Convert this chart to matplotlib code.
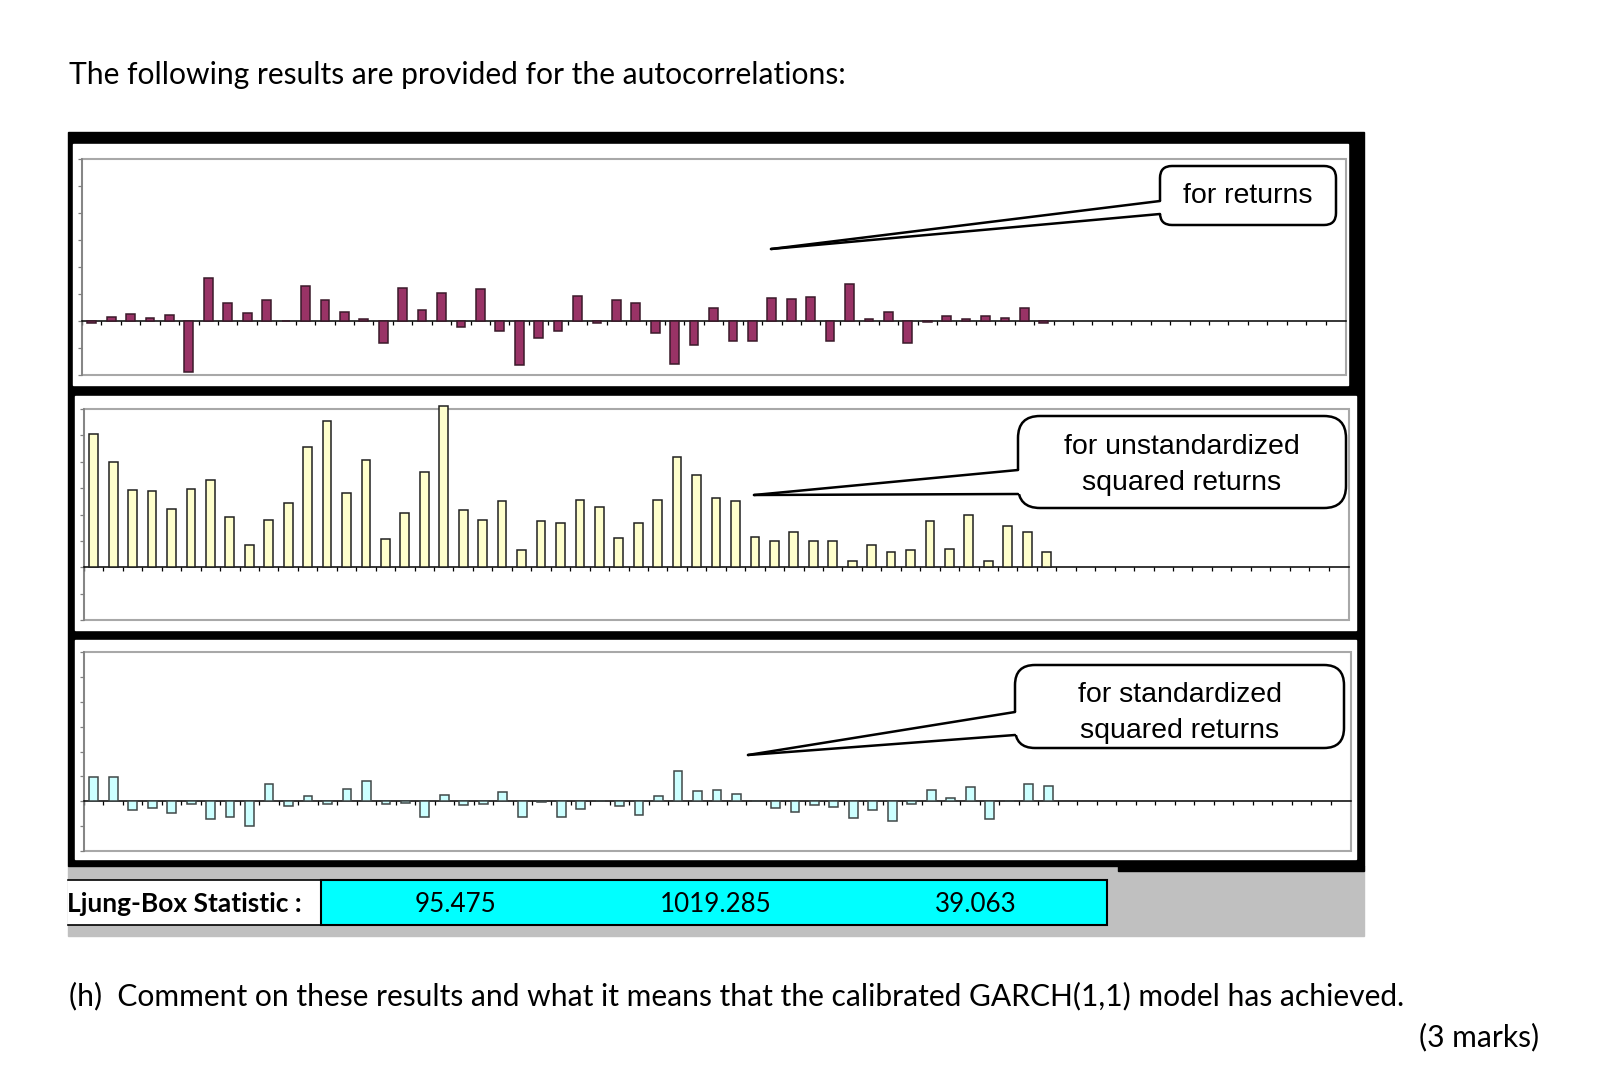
import matplotlib
matplotlib.use("Agg")
import matplotlib.pyplot as plt
from matplotlib.patches import Rectangle, FancyBboxPatch, Polygon
import numpy as np

# autocorrelations (lags 1..50)
lags = np.arange(1, 51)
ret_acf = [-0.008, 0.013, 0.026, 0.011, 0.022, -0.19, 0.159, 0.068, 0.029, 0.076,
           0.0, 0.129, 0.076, 0.035, 0.007, -0.083, 0.122, 0.039, 0.104, -0.022,
           0.117, -0.037, -0.162, -0.062, -0.037, 0.094, -0.008, 0.079, 0.065, -0.044,
           -0.16, -0.088, 0.05, -0.073, -0.073, 0.087, 0.083, 0.09, -0.073, 0.137,
           0.007, 0.035, -0.083, -0.004, 0.018, 0.007, 0.018, 0.011, 0.048, -0.008]
sq_acf = [0.504, 0.398, 0.294, 0.288, 0.221, 0.298, 0.331, 0.189, 0.085, 0.178,
          0.243, 0.455, 0.555, 0.283, 0.408, 0.106, 0.206, 0.36, 0.61, 0.218,
          0.178, 0.25, 0.064, 0.174, 0.166, 0.254, 0.229, 0.111, 0.166, 0.254,
          0.419, 0.35, 0.261, 0.25, 0.114, 0.099, 0.133, 0.099, 0.099, 0.023,
          0.085, 0.056, 0.064, 0.176, 0.07, 0.199, 0.023, 0.155, 0.133, 0.059]
std_acf = [0.099, 0.099, -0.036, -0.028, -0.047, -0.012, -0.071, -0.063, -0.099, 0.068,
           -0.02, 0.02, -0.012, 0.048, 0.08, -0.012, -0.008, -0.063, 0.024, -0.016,
           -0.012, 0.036, -0.063, -0.004, -0.063, -0.03, 0.003, -0.02, -0.056, 0.02,
           0.121, 0.04, 0.044, 0.028, 0.0, -0.028, -0.044, -0.016, -0.024, -0.068,
           -0.036, -0.079, -0.012, 0.044, 0.012, 0.056, -0.072, 0.0, 0.068, 0.06]

panel_labels = ["for returns", "for unstandardized\nsquared returns", "for standardized\nsquared returns"]
lb_label = "Ljung-Box Statistic :"
lb_values = ["95.475", "1019.285", "39.063"]
title = "The following results are provided for the autocorrelations:"
question = "(h)  Comment on these results and what it means that the calibrated GARCH(1,1) model has achieved."
marks = "(3 marks)"

W, H = 1599, 1073
fig = plt.figure(figsize=(W / 100, H / 100), dpi=100)


def rect(x0, y0, x1, y1):
    # pixel box (origin top-left) -> figure fraction
    return [x0 / W, 1 - y1 / H, (x1 - x0) / W, (y1 - y0) / H]


bg = fig.add_axes([0, 0, 1, 1], zorder=0)
bg.set_xlim(0, W)
bg.set_ylim(H, 0)
bg.axis("off")

fg = fig.add_axes([0, 0, 1, 1], zorder=10)
fg.set_xlim(0, W)
fg.set_ylim(H, 0)
fg.axis("off")
fg.patch.set_alpha(0)

# frame, panels and the statistic row
bg.add_patch(Rectangle((68, 866), 1296, 70, color="#C0C0C0"))
bg.add_patch(Rectangle((68, 132), 1296, 734, color="black"))
bg.add_patch(Rectangle((1118, 866), 246, 5, color="black"))
bg.add_patch(Rectangle((73, 144), 1275, 241, color="white"))
bg.add_patch(Rectangle((75, 396), 1281, 234, color="white"))
bg.add_patch(Rectangle((75, 640), 1281, 219, color="white"))
bg.add_patch(Rectangle((68, 880), 253, 45, facecolor="white", edgecolor="none"))
bg.plot([68, 321], [880, 880], color="black", lw=1.2)
bg.plot([68, 321], [925, 925], color="black", lw=1.2)
bg.add_patch(Rectangle((321, 880), 786, 45, facecolor="#00FFFF", edgecolor="black", lw=1.5))

doc_font = "Lato"
fg.text(69, 75, title, fontsize=21.6, family=doc_font, va="center", ha="left")
fg.text(67, 904, lb_label, fontsize=19, family=doc_font, weight="bold", va="center", ha="left")
for xc, v in zip([456, 716, 976], lb_values):
    fg.text(xc, 904, v, fontsize=18.7, family=doc_font, va="center", ha="center")
fg.text(69, 996, question, fontsize=21.6, family=doc_font, va="center", ha="left")
fg.text(1539, 1037, marks, fontsize=21.6, family=doc_font, va="center", ha="right")

panels = [
    (ret_acf, "#993366", "#3a1a2a", (82, 159, 1346, 375)),
    (sq_acf, "#FFFFCC", "#202020", (84, 409, 1349, 620)),
    (std_acf, "#CCFFFF", "#404848", (84, 652, 1351, 851)),
]

for vals, fc, ec, box in panels:
    ax = fig.add_axes(rect(*box), zorder=5)
    ax.set_facecolor("none")
    ax.bar(lags, vals, width=0.45, color=fc, edgecolor=ec, linewidth=1.1, clip_on=False, zorder=3)
    ax.set_xlim(0.5, 65.55)
    ax.set_ylim(-0.195, 0.6)
    for s in ["top", "right"]:
        ax.spines[s].set_visible(False)
    ax.spines["bottom"].set_position(("data", 0))
    ax.spines["bottom"].set_color("black")
    ax.spines["bottom"].set_linewidth(1.1)
    ax.spines["left"].set_color("#808080")
    ax.spines["left"].set_linewidth(1.2)
    ax.add_patch(Rectangle((0, 0), 1, 1, transform=ax.transAxes, fill=False,
                           edgecolor="#A8A8A8", lw=1.5, clip_on=False, zorder=1))
    ax.set_xticks(np.arange(0.5, 65.5, 1))
    ax.set_yticks(np.arange(-0.2, 0.61, 0.1))
    ax.tick_params(axis="x", direction="out", length=3, width=0.9, color="black", labelbottom=False)
    ax.tick_params(axis="y", direction="out", length=3, width=0.9, color="#808080", labelleft=False)


def callout(x0, y0, x1, y1, r, a_top, a_bot, tip, text, cy):
    fg.add_patch(FancyBboxPatch((x0 + r, y0 + r), x1 - x0 - 2 * r, y1 - y0 - 2 * r,
                                boxstyle=f"round,pad={r}", fc="white", ec="black", lw=1.8, zorder=2))
    fg.add_patch(Polygon([(x0 + 6, a_top), (x0 - 1, a_top), tip, (x0 - 1, a_bot), (x0 + 6, a_bot)],
                         closed=True, fc="white", ec="none", zorder=3))
    fg.plot([x0, tip[0]], [a_top, tip[1]], color="black", lw=1.8, zorder=4, solid_capstyle="round")
    fg.plot([x0, tip[0]], [a_bot, tip[1]], color="black", lw=1.8, zorder=4, solid_capstyle="round")
    fg.text((x0 + x1) / 2, cy, text, fontsize=20.5, family="Liberation Sans", ha="center",
            va="center", linespacing=1.45, zorder=5)


callout(1160, 166, 1336, 225, 12, 201, 214, (771, 249), panel_labels[0], 196)
callout(1018, 416, 1346, 508, 22, 470, 494, (754, 495), panel_labels[1], 465)
callout(1015, 665, 1344, 748, 20, 712, 735, (748, 755), panel_labels[2], 713)

fig.savefig("out.png", dpi=100)
